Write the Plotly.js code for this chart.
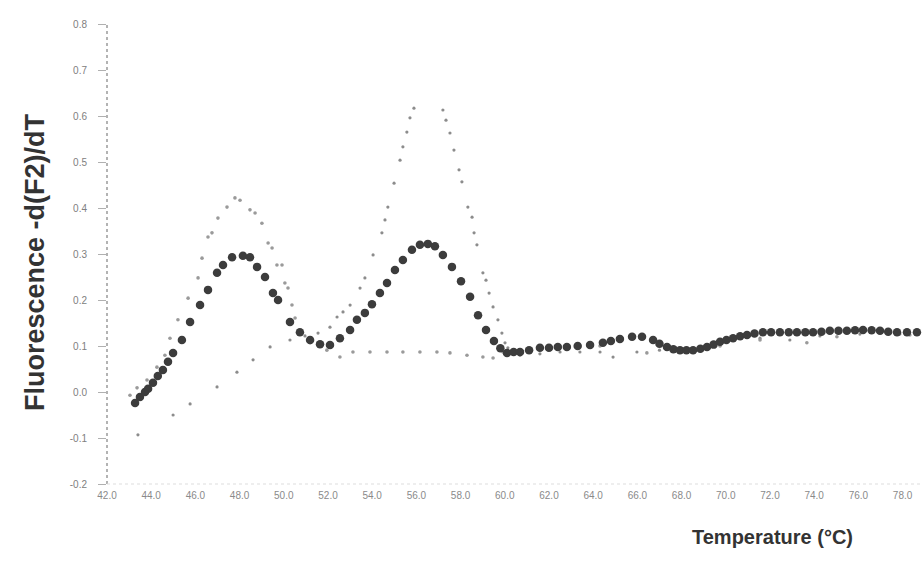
<!DOCTYPE html>
<html>
<head>
<meta charset="utf-8">
<script src="https://cdn.plot.ly/plotly-3.0.1.min.js"></script>
<style>html,body{margin:0;padding:0;background:#fff;}#chart{width:922px;height:566px;}</style>
</head>
<body>
<div id="chart"></div>
<script>
// Heterozygous sample (dark, large markers): two melting peaks
const tempHet = [43.27,43.49,43.72,43.86,44.08,44.30,44.53,44.76,44.99,45.39,45.76,46.21,46.57,46.98,47.25,47.66,48.15,48.47,48.79,49.15,49.51,49.74,50.28,50.73,51.19,51.64,52.09,52.54,53.00,53.31,53.67,53.99,54.35,54.67,55.03,55.39,55.80,56.16,56.52,56.84,57.20,57.61,58.02,58.43,58.79,59.15,59.51,59.80,60.10,60.40,60.69,61.10,61.59,62.00,62.40,62.81,63.30,63.86,64.44,64.80,65.21,65.76,66.21,66.71,67.00,67.34,67.63,67.93,68.22,68.52,68.85,69.15,69.45,69.74,70.03,70.33,70.65,70.96,71.30,71.68,72.05,72.45,72.85,73.22,73.60,73.95,74.33,74.71,75.10,75.48,75.85,76.21,76.60,76.98,77.35,77.75,78.20,78.65];
const valHet = [-0.024,-0.011,0.000,0.007,0.020,0.035,0.048,0.066,0.085,0.113,0.152,0.189,0.222,0.259,0.276,0.293,0.296,0.293,0.272,0.250,0.215,0.200,0.152,0.130,0.113,0.104,0.102,0.117,0.135,0.157,0.172,0.191,0.215,0.237,0.265,0.287,0.309,0.320,0.322,0.317,0.298,0.272,0.241,0.207,0.167,0.135,0.111,0.095,0.085,0.087,0.087,0.091,0.096,0.096,0.098,0.098,0.100,0.102,0.107,0.111,0.115,0.120,0.120,0.113,0.105,0.098,0.093,0.091,0.091,0.091,0.094,0.098,0.103,0.109,0.113,0.117,0.121,0.124,0.127,0.130,0.130,0.130,0.130,0.130,0.130,0.130,0.131,0.133,0.133,0.133,0.134,0.135,0.134,0.133,0.131,0.130,0.130,0.130];

// Sample with the high-temperature peak (light dots)
const tempHigh = [43.40,44.99,45.76,46.98,47.88,48.61,49.38,50.28,50.96,51.55,52.09,52.41,52.68,53.00,53.45,53.67,54.04,54.44,54.58,54.71,54.99,55.26,55.39,55.57,55.71,55.89,57.20,57.34,57.52,57.70,57.93,58.06,58.33,58.52,58.61,58.74,59.01,59.15,59.29,59.47,59.69,59.87,60.01,60.14,60.69,61.59,62.50,63.40,64.31,64.90,65.98,67.00,68.38,69.74,71.55,72.90,74.26,76.07,77.88];
const valHigh = [-0.093,-0.050,-0.026,0.011,0.043,0.070,0.098,0.113,0.122,0.128,0.141,0.163,0.174,0.189,0.226,0.248,0.298,0.346,0.374,0.402,0.454,0.504,0.533,0.565,0.596,0.617,0.613,0.591,0.563,0.526,0.483,0.457,0.402,0.380,0.346,0.320,0.259,0.243,0.215,0.185,0.157,0.128,0.107,0.096,0.080,0.083,0.087,0.087,0.087,0.076,0.087,0.091,0.091,0.102,0.117,0.113,0.122,0.126,0.126];

// Sample with the low-temperature peak (light dots)
const tempLow = [43.04,43.36,43.81,44.26,44.62,44.85,45.21,45.67,46.12,46.30,46.57,46.75,47.02,47.43,47.79,48.02,48.47,48.70,49.01,49.29,49.47,49.69,49.92,50.05,50.19,50.37,50.51,51.19,51.95,52.54,53.13,53.90,54.67,55.39,56.16,56.93,57.52,58.29,59.01,59.47,59.92,60.69,62.50,64.31,66.43,67.93,69.74,71.55,73.67,75.03,78.33];
const valLow = [-0.007,0.009,0.026,0.054,0.080,0.117,0.157,0.204,0.248,0.291,0.337,0.346,0.378,0.402,0.422,0.417,0.396,0.389,0.367,0.324,0.313,0.276,0.276,0.237,0.226,0.189,0.161,0.107,0.091,0.076,0.087,0.087,0.087,0.087,0.087,0.087,0.085,0.080,0.076,0.074,0.087,0.091,0.096,0.100,0.085,0.087,0.100,0.113,0.107,0.120,0.124];

const xTicks = [42,44,46,48,50,52,54,56,58,60,62,64,66,68,70,72,74,76,78];
const yTicks = [-0.2,-0.1,0.0,0.1,0.2,0.3,0.4,0.5,0.6,0.7,0.8];
const xTitle = 'Temperature (°C)';
const yTitle = 'Fluorescence -d(F2)/dT';

const traces = [
  {x: tempHigh, y: valHigh, type: 'scatter', mode: 'markers',
   marker: {size: 3.2, color: '#8c8c8c'}, hoverinfo: 'skip'},
  {x: tempLow, y: valLow, type: 'scatter', mode: 'markers',
   marker: {size: 3.6, color: '#9a9a9a'}, hoverinfo: 'skip'},
  {x: tempHet, y: valHet, type: 'scatter', mode: 'markers',
   marker: {size: 8.5, color: '#3c3c3c'}, hoverinfo: 'skip'}
];

const layout = {
  width: 922, height: 566,
  margin: {l: 107, r: 0, t: 24, b: 82},
  paper_bgcolor: '#ffffff', plot_bgcolor: '#ffffff',
  showlegend: false,
  font: {family: 'Liberation Sans, Arial, sans-serif', color: '#808080', size: 10},
  xaxis: {
    range: [42, 78.88], tickvals: xTicks, ticktext: xTicks.map(v => v.toFixed(1)),
    showgrid: false, zeroline: false, showline: false, ticks: '',
    ticklabelstandoff: 4, tickfont: {size: 10, color: '#8a8a8a'}
  },
  yaxis: {
    range: [-0.2, 0.8], tickvals: yTicks, ticktext: yTicks.map(v => v.toFixed(1)),
    showgrid: false, zeroline: false, showline: false,
    ticks: 'outside', ticklen: 8, tickcolor: '#b0b0b0', tickwidth: 1,
    ticklabelstandoff: 9, tickfont: {size: 10, color: '#808080'}
  },
  shapes: [
    {type: 'line', xref: 'paper', yref: 'paper', x0: 0, x1: 0, y0: 0, y1: 1,
     line: {color: '#9a9a9a', width: 1.5, dash: 'dot'}},
    {type: 'line', xref: 'paper', yref: 'paper', x0: 0, x1: 1, y0: 0, y1: 0,
     line: {color: '#dddddd', width: 1, dash: 'dot'}}
  ],
  annotations: [
    {text: xTitle, xref: 'paper', yref: 'paper', x: 0.816, y: -0.115,
     xanchor: 'center', yanchor: 'middle', showarrow: false,
     font: {family: 'Liberation Sans, Arial, sans-serif', size: 20, color: '#333333', weight: 'bold'}},
    {text: yTitle, xref: 'paper', yref: 'paper', x: -0.088, y: 0.483,
     xanchor: 'center', yanchor: 'middle', showarrow: false, textangle: -90,
     font: {family: 'Liberation Sans, Arial, sans-serif', size: 27, color: '#333333', weight: 'bold'}}
  ]
};

Plotly.newPlot('chart', traces, layout, {displayModeBar: false, staticPlot: true});
</script>
</body>
</html>
